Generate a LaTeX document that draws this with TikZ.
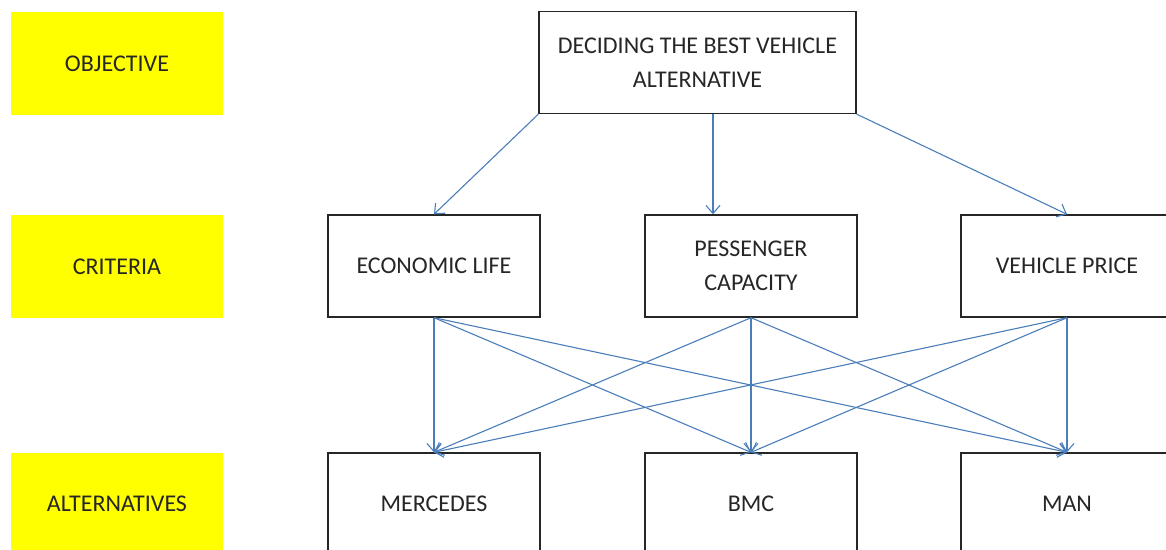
\documentclass[tikz,border=0pt]{standalone}
\usepackage{fontspec}
\setmainfont{Carlito}
\usepackage{tikz}
\usetikzlibrary{arrows.meta}

\definecolor{levelyellow}{HTML}{FFFF00}
\definecolor{linkblue}{HTML}{4A7EBB}
\definecolor{boxgray}{HTML}{262626}

\tikzset{
  level/.style={fill=levelyellow, minimum width=106pt, minimum height=51.5pt, inner sep=0pt, text=boxgray},
  item/.style={draw=boxgray, line width=0.7pt, fill=white, minimum width=106pt, minimum height=51pt, inner sep=0pt, align=center, text=boxgray},
  link/.style={draw=linkblue, line width=0.55pt, -{Straight Barb[length=4pt, width=7pt]}}
}

\begin{document}
\begin{tikzpicture}[x=0.5pt, y=-0.5pt, font=\fontsize{12}{17}\selectfont]
                    \useasboundingbox (0,0) rectangle (1166,550);
                    % levels on the left
                    \node[level] (obj) at (117,63.5) {OBJECTIVE};
                    \node[level] (crit) at (117,266.5) {CRITERIA};
                    \node[level] (alt) at (117,504) {ALTERNATIVES};
                    % goal
                    \node[item, minimum width=158.5pt] (goal) at (697.5,62.5) {DECIDING THE BEST VEHICLE\\ALTERNATIVE};
                    % criteria
                    \node[item] (econ) at (434,266) {ECONOMIC LIFE};
                    \node[item] (cap) at (751,266) {PESSENGER\\CAPACITY};
                    \node[item] (price) at (1067,266) {VEHICLE PRICE};
                    % alternatives
                    \node[item] (merc) at (434,504) {MERCEDES};
                    \node[item] (bmc) at (751,504) {BMC};
                    \node[item] (man) at (1067,504) {MAN};
                    % goal to criteria
                    \coordinate (mid) at ([xshift=7.75pt]goal.south);
                    \draw[link] (goal.south west) -- (econ.north);
                    \draw[link] (mid) -- (mid |- cap.north);
                    \draw[link] (goal.south east) -- (price.north);
                    % criteria to alternatives
                    \draw[link] (econ.south) -- (merc.north);
                    \draw[link] (econ.south) -- (bmc.north);
                    \draw[link] (econ.south) -- (man.north);
                    \draw[link] (cap.south) -- (merc.north);
                    \draw[link] (cap.south) -- (bmc.north);
                    \draw[link] (cap.south) -- (man.north);
                    \draw[link] (price.south) -- (merc.north);
                    \draw[link] (price.south) -- (bmc.north);
                    \draw[link] (price.south) -- (man.north);
\end{tikzpicture}
\end{document}
